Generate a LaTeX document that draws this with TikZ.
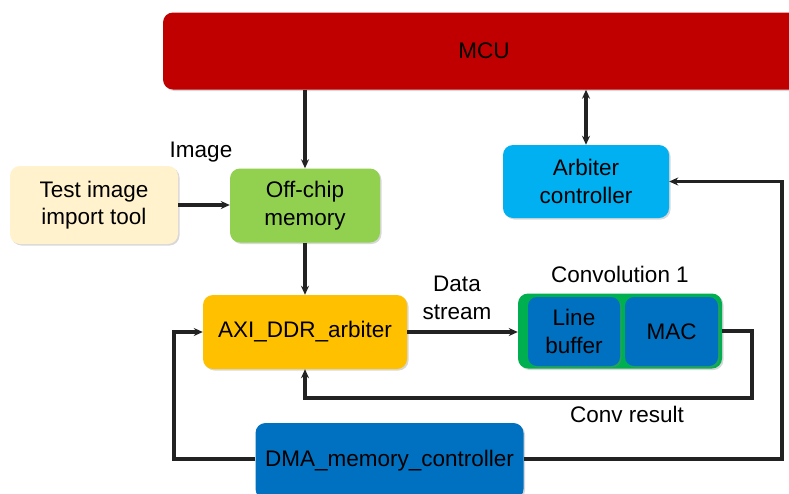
\documentclass[tikz,border=0pt]{standalone}
\usepackage{fontspec}
\setmainfont{Liberation Sans}
\usetikzlibrary{arrows.meta,shadows}
\definecolor{mcured}{HTML}{C00000}
\definecolor{cream}{HTML}{FFF2CC}
\definecolor{lgreen}{HTML}{92D050}
\definecolor{skyblue}{HTML}{00B0F0}
\definecolor{amber}{HTML}{FFC000}
\definecolor{cgreen}{HTML}{00B050}
\definecolor{dblue}{HTML}{0070C0}
\definecolor{linec}{HTML}{222222}
\tikzset{
  blk/.style={rectangle, rounded corners=10pt, draw=none, align=center,
    font=\fontsize{22.5}{27.5}\selectfont, text=black,
    drop shadow={opacity=0.3, shadow xshift=1.5pt, shadow yshift=-1.5pt}},
  lbl/.style={align=center, font=\fontsize{22.5}{28}\selectfont, text=black},
  conn/.style={draw=linec, line width=3.2pt},
  arr/.style={conn, -{Stealth[length=9pt,width=8pt]}},
  darr/.style={conn, {Stealth[length=9pt,width=8pt]}-{Stealth[length=9pt,width=8pt]}}
}
\begin{document}
\begin{tikzpicture}[x=1pt,y=-1pt]
\useasboundingbox (0,0) rectangle (789,493);
\fill[white] (0,0) rectangle (789,493);
% blocks
\node[blk, fill=mcured, minimum width=642pt, minimum height=77pt] (mcu) at (484,51) {MCU};
\node[blk, fill=cream, minimum width=168pt, minimum height=78pt] (test) at (94,205) {Test image\\import tool};
\node[blk, fill=lgreen, minimum width=150pt, minimum height=74pt] (off) at (305,205.5) {Off-chip\\memory};
\node[blk, fill=skyblue, minimum width=166pt, minimum height=73pt] (arb) at (586,181.5) {Arbiter\\controller};
\node[blk, fill=amber, minimum width=204pt, minimum height=74pt] (axi) at (305,332) {AXI\_DDR\_arbiter};
\node[blk, fill=cgreen, minimum width=204pt, minimum height=75pt] (conv) at (620,331) {};
\node[blk, fill=dblue, rounded corners=9pt, minimum width=92pt, minimum height=69pt] (lb) at (574,331.5) {Line\\buffer};
\node[blk, fill=dblue, rounded corners=9pt, minimum width=93pt, minimum height=69pt] (mac) at (671.5,331.5) {MAC};
\node[blk, fill=dblue, minimum width=268pt, minimum height=76pt] (dma) at (389.5,461) {DMA\_memory\_controller};
% labels
\node[lbl] (limg) at (201,152) {Image};
\node[lbl] (lds) at (457,298) {Data\\stream};
\node[lbl] (lconv) at (620,274) {Convolution 1};
\node[lbl] (lres) at (627,414) {Conv result};
% coordinates
\coordinate (cr) at (752,398);
\coordinate (dl) at (174,459);
\coordinate (dr) at (782,459);
% connectors
\draw[arr] (mcu.south -| off.north) -- (off.north);
\draw[darr] (mcu.south -| arb.north) -- (arb.north);
\draw[arr] (test.east) -- (test.east -| off.west);
\draw[arr] (off.south) -- (axi.north);
\draw[arr] (axi.east) -- (axi.east -| conv.west);
\draw[arr] (conv.east) -| (cr) -| (axi.south);
\draw[arr] (dma.west |- dl) -- (dl) |- (axi.west);
\draw[arr] (dma.east |- dr) -- (dr) |- (arb.east);
\end{tikzpicture}
\end{document}
